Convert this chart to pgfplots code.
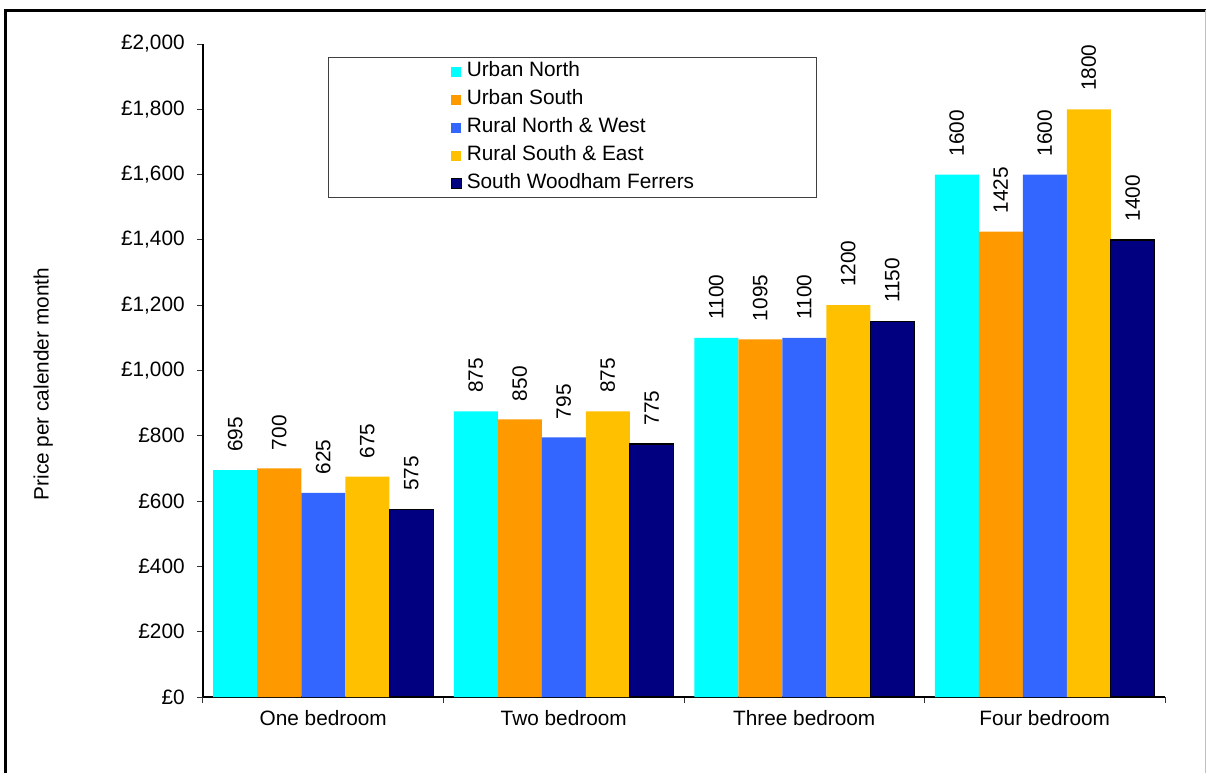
\documentclass[border=0pt]{standalone}
\usepackage{fontspec}
\setmainfont{Liberation Sans}
\usepackage{pgfplots}
\pgfplotsset{compat=1.18}

\definecolor{urbN}{HTML}{00FFFF}
\definecolor{urbS}{HTML}{FF9900}
\definecolor{rurNW}{HTML}{3366FF}
\definecolor{rurSE}{HTML}{FFC000}
\definecolor{swf}{HTML}{000080}

\begin{document}
\begin{tikzpicture}[x=0.5pt,y=0.5pt]
\fontsize{10.4}{12.5}\selectfont
\path[use as bounding box] (0,0) rectangle (1206,773);
\draw[line width=1.1pt] (5.5,0) -- (5.5,762.5) -- (1206,762.5);
\draw[line width=0.4pt, black!25] (1205,0) -- (1205,762.5);
\begin{axis}[
  at={(101.5pt,38pt)}, anchor=south west,
  width=481pt, height=326.5pt, scale only axis,
  font=\fontsize{10.4}{12.5}\selectfont,
  xmin=-0.5, xmax=3.5, ymin=0, ymax=2000,
  enlargelimits=false, clip=false,
  ybar=0pt, bar width=22pt,
  axis lines*=left,
  axis line style={line width=0.6pt, black},
  tick align=outside,
  major tick length=3pt, minor tick length=3pt,
  tick style={line width=0.5pt, black!80},
  xtick={0,1,2,3},
  xticklabels={One bedroom,Two bedroom,Three bedroom,Four bedroom},
  major x tick style={draw=none},
  minor xtick={-0.5,0.5,1.5,2.5,3.5},
  ytick={0,200,...,2000},
  /pgf/number format/assume math mode=true,
  /pgf/number format/1000 sep={,},
  yticklabel={£\pgfmathprintnumber{\tick}},
  yticklabel style={xshift=-2.5pt},
  every axis y label/.style={at={(axis description cs:-0.166,0.479)}, rotate=90, anchor=center},
  ylabel={Price per calender month},
  nodes near coords={\pgfmathprintnumber[1000 sep={}]{\pgfplotspointmeta}},
  every node near coord/.append style={rotate=90, anchor=west, inner xsep=9pt, inner ysep=0pt, black},
  legend cell align=left,
  legend image code/.code={\path[#1] (0pt,-2.5pt) rectangle (5pt,2.5pt);},
  legend style={at={(axis description cs:0.130,0.980)}, anchor=north west,
    draw=black!75, line width=0.5pt, inner xsep=61pt, inner ysep=0pt,
    row sep=0pt, column sep=2.5pt,
    nodes={inner sep=0pt, text height=9.5pt, text depth=4.5pt}},
]
\addplot[fill=urbN, draw=none] coordinates {(0,695) (1,875) (2,1100) (3,1600)};
\addplot[fill=urbS, draw=none] coordinates {(0,700) (1,850) (2,1095) (3,1425)};
\addplot[fill=rurNW, draw=none] coordinates {(0,625) (1,795) (2,1100) (3,1600)};
\addplot[fill=rurSE, draw=none] coordinates {(0,675) (1,875) (2,1200) (3,1800)};
\addplot[fill=swf, draw=black, line width=0.6pt] coordinates {(0,575) (1,775) (2,1150) (3,1400)};
\legend{Urban North,Urban South,Rural North \& West,Rural South \& East,South Woodham Ferrers}
\end{axis}
\end{tikzpicture}
\end{document}
